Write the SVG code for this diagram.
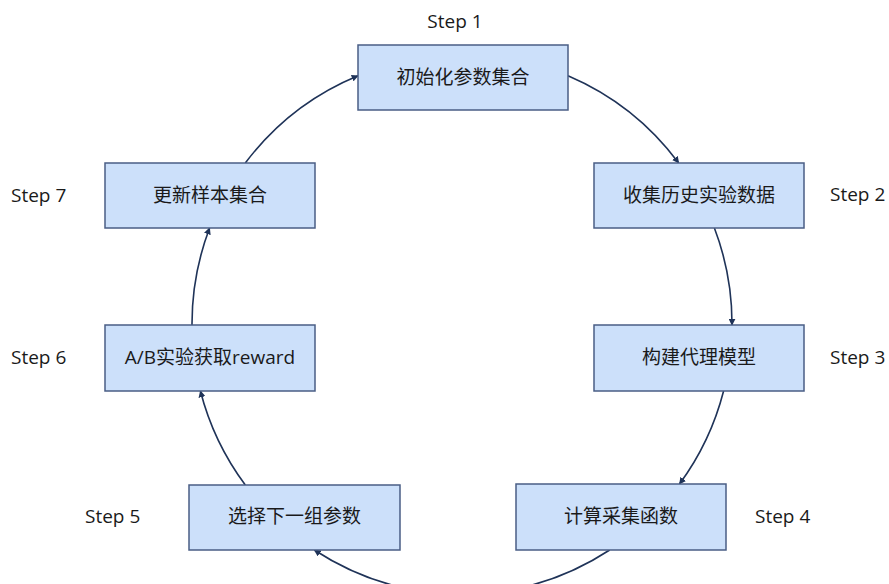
<svg xmlns="http://www.w3.org/2000/svg" width="889" height="584" viewBox="0 0 889 584">
<defs>
<marker id="arr" viewBox="0 0 10 10" refX="9" refY="5" markerWidth="7" markerHeight="7" markerUnits="userSpaceOnUse" orient="auto">
<path d="M0,0 L10,5 L0,10 z" fill="#1f3358"/>
</marker>
<style>
.box{fill:#cce0fa;stroke:#4a5e85;stroke-width:1.5}
.t{font-family:"Open Sans","Noto Sans CJK SC",sans-serif;font-size:19px;fill:#1a1a1a;text-anchor:middle}
.s{font-family:"Open Sans","Noto Sans CJK SC",sans-serif;font-size:19px;fill:#1a1a1a}
.c{fill:none;stroke:#1f3358;stroke-width:1.6;marker-end:url(#arr)}
</style>
</defs>
<rect width="889" height="584" fill="#ffffff"/>
<g id="connectors">
<path class="c" d="M568,75.7 A270,270 0 0 1 678.7,163"/>
<path class="c" d="M714.4,228 A270,270 0 0 1 732,325"/>
<path class="c" d="M723.6,391 A270,270 0 0 1 679.5,484"/>
<path class="c" d="M609.7,550 A270,270 0 0 1 314.3,550"/>
<path class="c" d="M245.3,485 A270,270 0 0 1 200.4,391"/>
<path class="c" d="M192,325 A270,270 0 0 1 209.6,228"/>
<path class="c" d="M245.3,163 A270,270 0 0 1 358,75.7"/>
</g>
<g id="node1">
<rect class="box" x="358" y="45" width="210" height="65"/>
<text class="t" x="463" y="84">初始化参数集合</text>
<text class="t" x="455" y="28">Step 1</text>
</g>
<g id="node2">
<rect class="box" x="594" y="163" width="210" height="65"/>
<text class="t" x="699" y="202">收集历史实验数据</text>
<text class="s" x="830" y="201">Step 2</text>
</g>
<g id="node3">
<rect class="box" x="594" y="325" width="210" height="66"/>
<text class="t" x="699" y="364">构建代理模型</text>
<text class="s" x="830" y="364">Step 3</text>
</g>
<g id="node4">
<rect class="box" x="516" y="484" width="210" height="66"/>
<text class="t" x="621" y="523">计算采集函数</text>
<text class="s" x="755" y="523">Step 4</text>
</g>
<g id="node5">
<rect class="box" x="189" y="485" width="211" height="65"/>
<text class="t" x="294.5" y="523">选择下一组参数</text>
<text class="s" x="85" y="523">Step 5</text>
</g>
<g id="node6">
<rect class="box" x="105" y="325" width="210" height="66"/>
<text class="t" x="210" y="364">A/B实验获取reward</text>
<text class="s" x="11" y="364">Step 6</text>
</g>
<g id="node7">
<rect class="box" x="105" y="163" width="210" height="65"/>
<text class="t" x="210" y="202">更新样本集合</text>
<text class="s" x="11" y="202">Step 7</text>
</g>
</svg>
